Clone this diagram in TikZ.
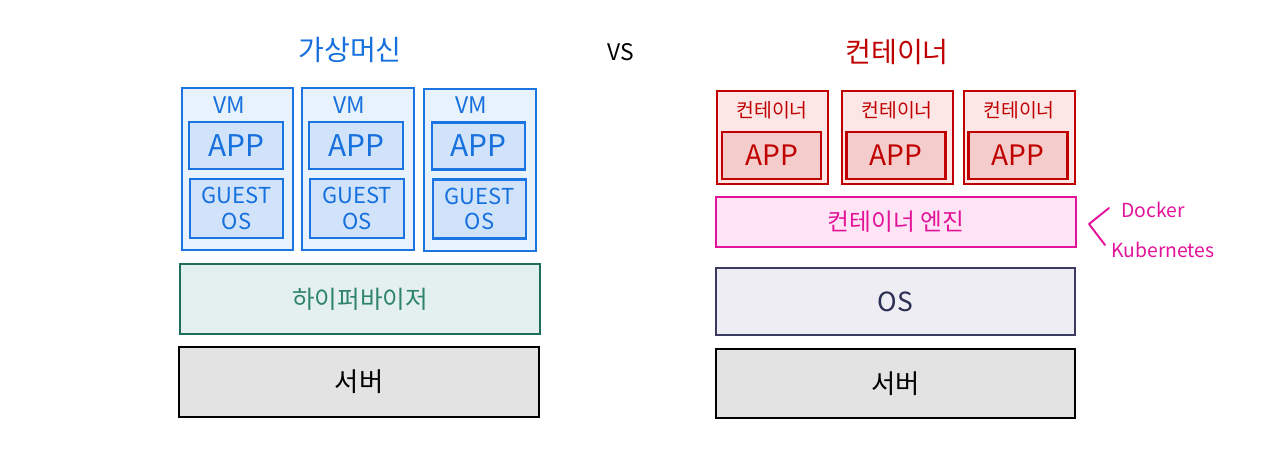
\documentclass[tikz,border=0pt]{standalone}
\usepackage{fontspec}
\setmainfont{Noto Sans CJK KR}
\usepackage{tikz}
\usetikzlibrary{positioning}
\usepackage{xcolor}

\definecolor{vmline}{HTML}{1A74E2}
\definecolor{vmfill}{HTML}{E8F2FD}
\definecolor{vmappfill}{HTML}{D0E3FA}
\definecolor{vmtext}{HTML}{1670DD}
\definecolor{ctrline}{HTML}{C00000}
\definecolor{ctrfill}{HTML}{FCE6E6}
\definecolor{ctrappfill}{HTML}{F4CCCC}
\definecolor{engline}{HTML}{E2139A}
\definecolor{engfill}{HTML}{FEE4F5}
\definecolor{hypline}{HTML}{1F6E57}
\definecolor{hypfill}{HTML}{E4F0EE}
\definecolor{hyptext}{HTML}{2E8468}
\definecolor{osline}{HTML}{3A3B5E}
\definecolor{osfill}{HTML}{EDEDF3}
\definecolor{ostext}{HTML}{2B2D55}
\definecolor{srvfill}{HTML}{E3E3E3}

\begin{document}
\begin{tikzpicture}[x=0.02cm, y=-0.02cm,
  layer/.style={draw, line width=1.2pt, inner sep=0pt, minimum width=7.2cm, align=center},
  vmbox/.style={draw=vmline, fill=vmfill, line width=1.2pt, minimum width=2.23cm, minimum height=3.24cm},
  vmapp/.style={draw=vmline, fill=vmappfill, line width=1.2pt, text=vmtext, minimum width=1.87cm, minimum height=0.94cm, font=\fontsize{17}{19}\selectfont},
  vmguest/.style={draw=vmline, fill=vmappfill, line width=1.2pt, text=vmtext, minimum width=1.87cm, minimum height=1.18cm, align=center, inner sep=0pt, font=\fontsize{12.5}{14.5}\selectfont},
  vmlabel/.style={text=vmtext, font=\fontsize{13}{15}\selectfont},
  ctrbox/.style={draw=ctrline, fill=ctrfill, line width=1.2pt, minimum width=2.22cm, minimum height=1.86cm},
  ctrapp/.style={draw=ctrline, fill=ctrappfill, line width=1.2pt, text=ctrline, minimum width=1.98cm, minimum height=0.94cm, font=\fontsize{16}{19}\selectfont},
  ctrlabel/.style={text=ctrline, font=\fontsize{11}{13}\selectfont},
  title/.style={font=\fontsize{16}{19}\selectfont},
  note/.style={text=engline, font=\fontsize{11}{13}\selectfont}]
  \useasboundingbox (0,0) rectangle (1280,459);

  % titles
  \node[title, text=vmtext] (tvm) at (350,50) {가상머신};
  \node[title, font=\fontsize{13}{15}\selectfont] (vs) at (621,52) {VS};
  \node[title, text=ctrline] (tctr) at (897,52) {컨테이너};

  % virtual machines
  \node[vmbox] (vm1) at (237.5,169) {};
  \node[vmlabel] (vml1) at (229,105) {VM};
  \node[vmapp] (app1) at (236,145.5) {APP};
  \node[vmguest] (guest1) at (236.5,208.5) {GUEST\\OS};

  \node[vmbox] (vm2) at (358,169) {};
  \node[vmlabel] (vml2) at (349,105) {VM};
  \node[vmapp] (app2) at (356,145.5) {APP};
  \node[vmguest] (guest2) at (357,208.5) {GUEST\\OS};

  \node[vmbox] (vm3) at (480,170) {};
  \node[vmlabel] (vml3) at (471,105) {VM};
  \node[vmapp] (app3) at (478.5,146) {APP};
  \node[vmguest] (guest3) at (479.5,209) {GUEST\\OS};

  % left layers
  \node[layer, draw=hypline, fill=hypfill, text=hyptext, minimum height=1.4cm,
        font=\fontsize{14}{16}\selectfont] (hyper) at (360,299) {하이퍼바이저};
  \node[layer, draw=black, fill=srvfill, minimum height=1.4cm,
        font=\fontsize{15}{17}\selectfont] (srvL) at (359,382) {서버};

  % containers
  \node[ctrbox] (ctr1) at (772.5,137.5) {};
  \node[ctrlabel] (ctrl1) at (772,110) {컨테이너};
  \node[ctrapp] (capp1) at (771.5,155.5) {APP};

  \node[ctrbox] (ctr2) at (897.5,137.5) {};
  \node[ctrlabel] (ctrl2) at (897,110) {컨테이너};
  \node[ctrapp] (capp2) at (896,155.5) {APP};

  \node[ctrbox] (ctr3) at (1019.5,137.5) {};
  \node[ctrlabel] (ctrl3) at (1019,110) {컨테이너};
  \node[ctrapp] (capp3) at (1018,155.5) {APP};

  % right layers
  \node[layer, draw=engline, fill=engfill, text=engline, minimum height=1.0cm,
        font=\fontsize{13.5}{15}\selectfont] (engine) at (896,222) {컨테이너 엔진};
  \node[layer, draw=osline, fill=osfill, text=ostext, minimum width=7.18cm, minimum height=1.34cm,
        font=\fontsize{15}{17}\selectfont] (os) at (895.5,301.5) {OS};
  \node[layer, draw=black, fill=srvfill, minimum width=7.18cm, minimum height=1.38cm,
        font=\fontsize{15}{17}\selectfont] (srvR) at (895.5,383.5) {서버};

  % engine examples
  \node[note] (docker) at (1153,210) {Docker};
  \node[note] (kube) at (1163,250) {Kubernetes};
  \draw[engline, line width=1.1pt, line cap=round, line join=round]
    (1109,208) -- (1089,224) -- (1105,245);
\end{tikzpicture}
\end{document}
